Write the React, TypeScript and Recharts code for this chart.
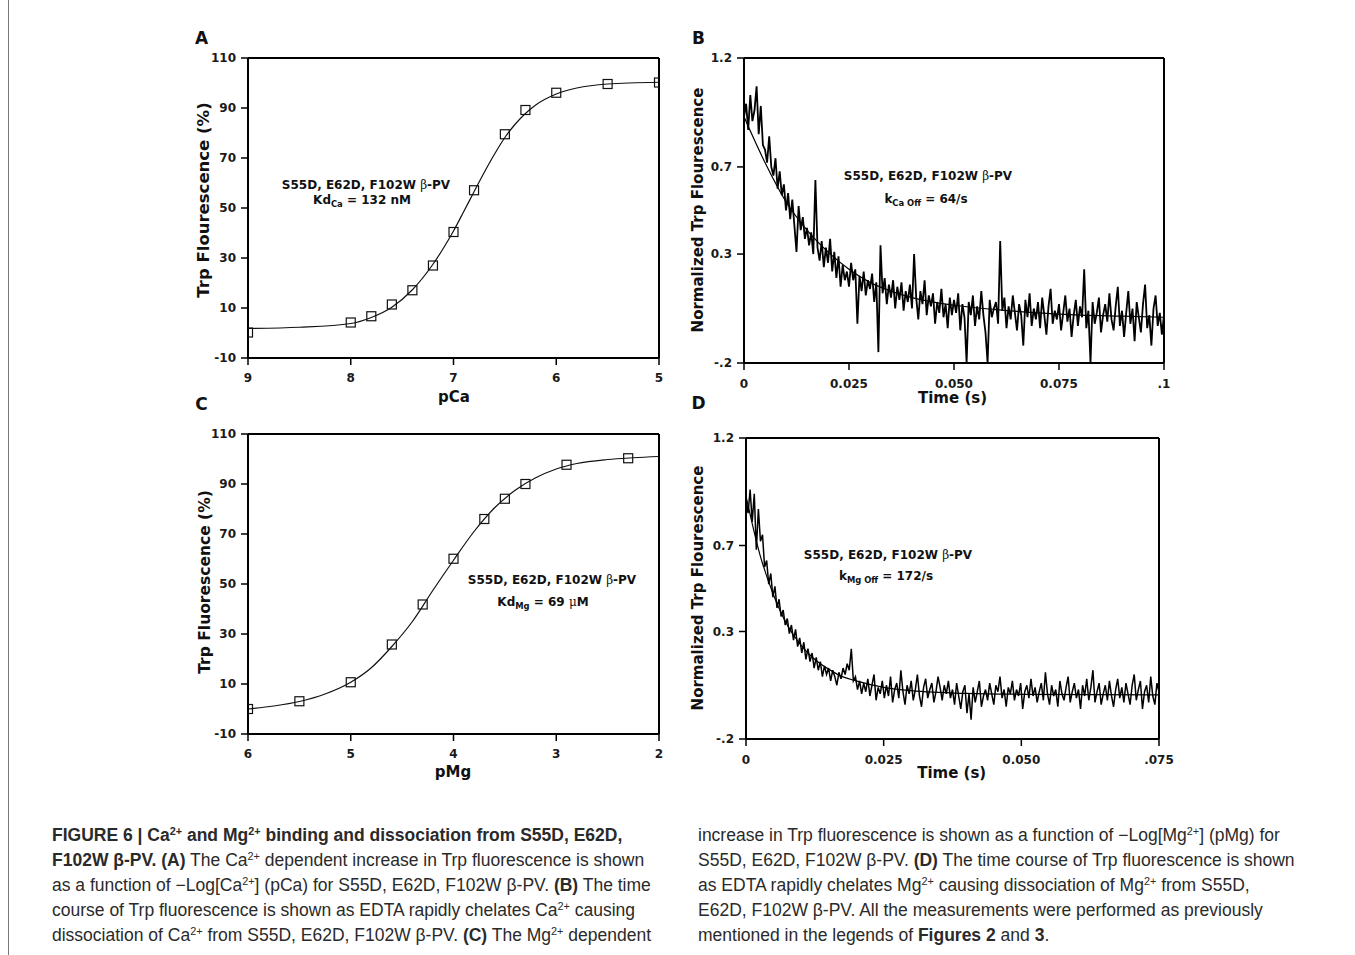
import React from 'react';
import { ComposedChart, Line, Scatter, XAxis, YAxis, ReferenceLine } from 'recharts';

// Panel A: Ca2+ titration (pCa vs Trp fluorescence %)
const pCaPoints = [9, 8, 7.8, 7.6, 7.4, 7.2, 7, 6.8, 6.5, 6.3, 6, 5.5, 5];
const caFluor = [0.2, 4.2, 6.7, 11.4, 17.1, 27, 40.4, 57.1, 79.5, 89.2, 96.1, 99.6, 100.2];
const pCaFit = [9, 8.5, 8, 7.8, 7.6, 7.4, 7.2, 7.1, 7, 6.9, 6.8, 6.7, 6.6, 6.5, 6.4, 6.3, 6.2, 6, 5.8, 5.5, 5];
const caFitValues = [1.8, 2.3, 3.8, 6.2, 10.3, 17.3, 27.5, 33.8, 40.8, 48.6, 56.5, 64.3, 71.6, 78.2, 83.5, 87.8, 91.2, 95.6, 98, 99.6, 100.3];

// Panel C: Mg2+ titration
const pMgPoints = [6, 5.5, 5, 4.6, 4.3, 4, 3.7, 3.5, 3.3, 2.9, 2.3];
const mgFluor = [0, 3.1, 10.7, 25.8, 41.8, 60.1, 76, 84.1, 90, 97.7, 100.3];
const pMgFit = [6, 5.75, 5.5, 5.25, 5, 4.8, 4.6, 4.4, 4.2, 4, 3.8, 3.6, 3.4, 3.2, 3, 2.8, 2.5, 2.25, 2];
const mgFitValues = [0, 1.2, 3, 6, 10.7, 16.5, 25, 35, 47.5, 59.5, 71, 80.5, 87.5, 92.5, 96, 98.2, 99.8, 100.5, 101];

// Panel B: Ca off trace, sampled every 0.5 ms
const caOffStep = 0.0005;
const caOffTrace = [
  0.93, 0.99, 0.87, 1.03, 0.91, 0.96, 1.07, 0.85, 0.98, 0.80,
  0.78, 0.72, 0.84, 0.70, 0.66, 0.74, 0.60, 0.68, 0.57, 0.62,
  0.50, 0.58, 0.46, 0.55, 0.43, 0.31, 0.52, 0.41, 0.47, 0.37,
  0.42, 0.34, 0.40, 0.30, 0.64, 0.33, 0.27, 0.36, 0.24, 0.33,
  0.26, 0.37, 0.22, 0.31, 0.19, 0.29, 0.15, 0.25, 0.18, 0.22,
  0.15, 0.26, 0.18, 0.23, -0.02, 0.20, 0.13, 0.22, 0.11, 0.18,
  0.14, 0.21, 0.08, 0.17, -0.15, 0.34, 0.12, 0.19, 0.07, 0.16,
  0.10, 0.18, 0.05, 0.15, 0.09, 0.17, 0.04, 0.13, 0.08, 0.16,
  0.05, 0.30, 0.10, 0.00, 0.13, 0.07, 0.18, 0.02, 0.11, 0.06,
  0.12, -0.02, 0.08, 0.03, 0.14, 0.01, 0.07, -0.04, 0.10, 0.02,
  0.09, 0.03, 0.12, -0.05, 0.07, 0.01, -0.20, 0.08, 0.02, 0.11,
  -0.03, 0.06, 0.00, 0.13, 0.02, -0.06, -0.20, 0.09, 0.01, 0.05,
  0.08, -0.02, 0.36, 0.04, 0.10, -0.04, 0.06, 0.00, 0.11, 0.03,
  -0.05, 0.07, 0.02, -0.12, 0.09, 0.01, 0.12, -0.03, 0.05, 0.00,
  0.08, -0.04, 0.10, 0.02, -0.07, 0.06, 0.14, -0.02, 0.04, 0.00,
  0.07, -0.05, 0.03, 0.11, -0.01, 0.05, -0.08, 0.02, 0.09, -0.03,
  0.06, 0.01, 0.23, -0.04, 0.04, -0.20, 0.08, -0.02, 0.03, 0.10,
  -0.06, 0.02, 0.07, -0.01, 0.12, 0.00, -0.05, 0.06, 0.15, -0.03,
  0.04, -0.08, 0.03, 0.13, -0.02, 0.05, -0.10, 0.08, 0.01, -0.06,
  0.07, 0.16, -0.04, 0.02, -0.12, 0.05, 0.11, -0.03, 0.03, -0.07, 0.02,
];
const caOffFitT = [0, 0.005, 0.01, 0.015, 0.02, 0.025, 0.03, 0.035, 0.04, 0.05, 0.06, 0.07, 0.08, 0.09, 0.1];
const caOffFitV = [0.93, 0.72, 0.54, 0.41, 0.31, 0.23, 0.17, 0.13, 0.10, 0.065, 0.045, 0.03, 0.02, 0.015, 0.01];

// Panel D: Mg off trace, sampled every 0.375 ms
const mgOffStep = 0.000375;
const mgOffTrace = [
  0.92, 0.85, 0.96, 0.81, 0.94, 0.68, 0.87, 0.72, 0.75, 0.60,
  0.63, 0.52, 0.57, 0.46, 0.51, 0.41, 0.45, 0.37, 0.40, 0.33,
  0.36, 0.29, 0.33, 0.26, 0.31, 0.23, 0.27, 0.20, 0.25, 0.17,
  0.22, 0.16, 0.20, 0.13, 0.18, 0.12, 0.16, 0.09, 0.14, 0.10,
  0.13, 0.07, 0.12, 0.09, 0.05, 0.11, 0.08, 0.13, 0.10, 0.15,
  0.12, 0.22, 0.07, 0.09, 0.03, 0.07, 0.01, 0.06, 0.02, 0.08,
  0.00, 0.05, 0.10, -0.02, 0.04, 0.01, 0.07, -0.01, 0.05, 0.00,
  0.09, -0.03, 0.03, 0.06, -0.01, 0.12, 0.02, -0.04, 0.05, 0.01,
  0.07, -0.02, 0.03, 0.10, 0.00, -0.05, 0.04, 0.08, -0.01, 0.03,
  0.06, -0.03, 0.02, 0.09, 0.04, -0.02, 0.05, 0.01, 0.07, -0.01,
  0.03, -0.04, 0.06, 0.00, -0.06, 0.02, 0.05, -0.08, 0.01, -0.11,
  0.04, -0.03, 0.02, 0.07, -0.05, 0.00, 0.03, -0.02, 0.06, 0.01,
  -0.04, 0.05, 0.02, 0.09, -0.01, 0.03, -0.05, 0.04, 0.01, 0.07,
  -0.02, 0.03, 0.00, 0.06, -0.06, 0.02, 0.05, -0.01, 0.08, 0.00,
  0.04, -0.03, 0.02, 0.06, -0.02, 0.11, 0.01, -0.04, 0.05, 0.00,
  0.03, -0.05, 0.07, 0.01, -0.02, 0.04, 0.09, -0.03, 0.02, 0.06,
  -0.01, 0.03, -0.06, 0.05, 0.00, 0.08, -0.02, 0.04, 0.12, -0.03,
  0.02, 0.06, -0.04, 0.01, 0.05, -0.02, 0.07, 0.00, -0.05, 0.03,
  0.08, -0.01, 0.04, -0.03, 0.06, 0.01, -0.04, 0.05, 0.10, -0.02,
  0.03, 0.07, -0.06, 0.02, 0.05, -0.03, 0.09, 0.00, -0.04, 0.06, 0.02,
];
const mgOffFitT = [0, 0.0025, 0.005, 0.0075, 0.01, 0.0125, 0.015, 0.0175, 0.02, 0.025, 0.03, 0.04, 0.05, 0.075];
const mgOffFitV = [0.93, 0.66, 0.47, 0.33, 0.235, 0.17, 0.125, 0.09, 0.07, 0.04, 0.025, 0.012, 0.008, 0.005];

// axis ticks
const pCaTicks = [5, 6, 7, 8, 9];
const pMgTicks = [2, 3, 4, 5, 6];
const fluorTicks = [-10, 10, 30, 50, 70, 90, 110];
const normTicks = [-0.2, 0.3, 0.7, 1.2];
const normLabels = ['-.2', '0.3', '0.7', '1.2'];
const caTimeTicks = [0, 0.025, 0.05, 0.075, 0.1];
const caTimeLabels = ['0', '0.025', '0.050', '0.075', '.1'];
const mgTimeTicks = [0, 0.025, 0.05, 0.075];
const mgTimeLabels = ['0', '0.025', '0.050', '.075'];

const pairs = (xs: number[], ys: number[]) => xs.map((x, i) => ({ x, y: ys[i] }));
const sampled = (ys: number[], step: number) => ys.map((y, i) => ({ x: i * step, y }));

const tickFont = { fill: '#1a1a1a', fontSize: 12, fontWeight: 700, fontFamily: 'DejaVu Sans, sans-serif' };
const axisLine = { stroke: '#000', strokeWidth: 2 };
const tickLine = { stroke: '#000', strokeWidth: 1.5 };

const Square = (p: any) => (
  <rect x={p.cx - 4.5} y={p.cy - 4.5} width={9} height={9} fill="none" stroke="#111" strokeWidth={1.2} />
);

type Box = { l: number; r: number; t: number; b: number };

function Panel({
  box, xDomain, xTicks, xLabels, reversed, yDomain, yTicks, yLabels, xTickMargin, children,
}: {
  box: Box; xDomain: [number, number]; xTicks: number[]; xLabels?: string[]; reversed?: boolean;
  yDomain: [number, number]; yTicks: number[]; yLabels?: string[]; xTickMargin: number;
  children: React.ReactNode;
}) {
  const fmt = (ticks: number[], labels?: string[]) => (v: number) => {
    const i = ticks.indexOf(v);
    return labels && i >= 0 ? labels[i] : String(v);
  };
  return (
    <div style={{ position: 'absolute', left: box.l - 70, top: box.t - 10 }}>
      <ComposedChart
        width={box.r - box.l + 100}
        height={box.b - box.t + 50}
        margin={{ top: 10, right: 30, left: 0, bottom: 0 }}
      >
        <XAxis
          type="number"
          dataKey="x"
          domain={xDomain}
          ticks={xTicks}
          interval={0}
          reversed={reversed}
          allowDataOverflow
          height={40}
          tickSize={7}
          tickMargin={xTickMargin}
          axisLine={axisLine}
          tickLine={tickLine}
          tick={tickFont}
          tickFormatter={fmt(xTicks, xLabels)}
        />
        <YAxis
          type="number"
          dataKey="y"
          domain={yDomain}
          ticks={yTicks}
          interval={0}
          allowDataOverflow
          width={70}
          tickSize={7}
          tickMargin={5}
          axisLine={axisLine}
          tickLine={tickLine}
          tick={tickFont}
          tickFormatter={fmt(yTicks, yLabels)}
        />
        <ReferenceLine y={yDomain[1]} stroke="#000" strokeWidth={2} />
        <ReferenceLine x={reversed ? xDomain[0] : xDomain[1]} stroke="#000" strokeWidth={2} />
        {children}
      </ComposedChart>
    </div>
  );
}

const bold = "'DejaVu Sans', sans-serif";

function At({ x, y, size = 12, rotate, children }: { x: number; y: number; size?: number; rotate?: boolean; children: React.ReactNode }) {
  return (
    <div
      style={{
        position: 'absolute', left: x, top: y, whiteSpace: 'nowrap',
        transform: `translate(-50%, -50%)${rotate ? ' rotate(-90deg)' : ''}`,
        fontFamily: bold, fontWeight: 700, fontSize: size, lineHeight: 1, color: '#111',
      }}
    >
      {children}
    </div>
  );
}

const beta = <span style={{ fontFamily: "'DejaVu Serif', serif", fontWeight: 400 }}>β</span>;
const sub = (t: string) => <sub style={{ fontSize: '0.7em', verticalAlign: '-0.35em' }}>{t}</sub>;
const sup = (t: string) => <sup style={{ fontSize: '0.62em', verticalAlign: '0.55em', lineHeight: 0 }}>{t}</sup>;
const ca = <>Ca{sup('2+')}</>;
const mg = <>Mg{sup('2+')}</>;
const pv = <>S55D, E62D, F102W β-PV</>;

const leftLines: React.ReactNode[] = [
  <b>FIGURE 6 | {ca} and {mg} binding and dissociation from S55D, E62D,</b>,
  <><b>F102W β-PV. (A)</b> The {ca} dependent increase in Trp fluorescence is shown</>,
  <>as a function of −Log[{ca}] (pCa) for {pv}. <b>(B)</b> The time</>,
  <>course of Trp fluorescence is shown as EDTA rapidly chelates {ca} causing</>,
  <>dissociation of {ca} from {pv}. <b>(C)</b> The {mg} dependent</>,
];
const rightLines: React.ReactNode[] = [
  <>increase in Trp fluorescence is shown as a function of −Log[{mg}] (pMg) for</>,
  <>{pv}. <b>(D)</b> The time course of Trp fluorescence is shown</>,
  <>as EDTA rapidly chelates {mg} causing dissociation of {mg} from S55D,</>,
  <>E62D, F102W β-PV. All the measurements were performed as previously</>,
  <>mentioned in the legends of <b>Figures 2</b> and <b>3</b>.</>,
];

function Caption({ x, lines }: { x: number; lines: React.ReactNode[] }) {
  return (
    <div
      style={{
        position: 'absolute', left: x, top: 823, fontFamily: "'Liberation Sans', Arial, sans-serif",
        fontSize: 17.5, lineHeight: '25px', color: '#2a2a2a',
      }}
    >
      {lines.map((l, i) => (
        <div key={i} style={{ whiteSpace: 'nowrap', height: 25 }}>{l}</div>
      ))}
    </div>
  );
}

export default function App() {
  return (
    <div style={{ position: 'absolute', left: 0, top: 0, width: 1355, height: 955, background: '#fff', overflow: 'hidden' }}>
      <div style={{ position: 'absolute', left: 8, top: 0, width: 0, height: 955, borderLeft: '1px solid #777' }} />

      <Panel box={{ l: 248, r: 659, t: 58, b: 358 }} xDomain={[5, 9]} xTicks={pCaTicks} reversed
        yDomain={[-10, 110]} yTicks={fluorTicks} xTickMargin={8}>
        <Line data={pairs(pCaFit, caFitValues)} dataKey="y" type="monotone" stroke="#111" strokeWidth={1.2} dot={false} isAnimationActive={false} />
        <Scatter data={pairs(pCaPoints, caFluor)} dataKey="y" shape={Square} isAnimationActive={false} />
      </Panel>

      <Panel box={{ l: 744, r: 1164, t: 58, b: 363 }} xDomain={[0, 0.1]} xTicks={caTimeTicks} xLabels={caTimeLabels}
        yDomain={[-0.2, 1.2]} yTicks={normTicks} yLabels={normLabels} xTickMargin={9}>
        <Line data={sampled(caOffTrace, caOffStep)} dataKey="y" type="linear" stroke="#000" strokeWidth={1.8} dot={false} isAnimationActive={false} />
        <Line data={pairs(caOffFitT, caOffFitV)} dataKey="y" type="monotone" stroke="#000" strokeWidth={1.2} dot={false} isAnimationActive={false} />
      </Panel>

      <Panel box={{ l: 248, r: 659, t: 434, b: 734 }} xDomain={[2, 6]} xTicks={pMgTicks} reversed
        yDomain={[-10, 110]} yTicks={fluorTicks} xTickMargin={8}>
        <Line data={pairs(pMgFit, mgFitValues)} dataKey="y" type="monotone" stroke="#111" strokeWidth={1.2} dot={false} isAnimationActive={false} />
        <Scatter data={pairs(pMgPoints, mgFluor)} dataKey="y" shape={Square} isAnimationActive={false} />
      </Panel>

      <Panel box={{ l: 746, r: 1159, t: 438, b: 739 }} xDomain={[0, 0.075]} xTicks={mgTimeTicks} xLabels={mgTimeLabels}
        yDomain={[-0.2, 1.2]} yTicks={normTicks} yLabels={normLabels} xTickMargin={9}>
        <Line data={sampled(mgOffTrace, mgOffStep)} dataKey="y" type="linear" stroke="#000" strokeWidth={1.5} dot={false} isAnimationActive={false} />
        <Line data={pairs(mgOffFitT, mgOffFitV)} dataKey="y" type="monotone" stroke="#000" strokeWidth={1.2} dot={false} isAnimationActive={false} />
      </Panel>

      <At x={201.5} y={37.5} size={17}>A</At>
      <At x={698.5} y={37.5} size={17}>B</At>
      <At x={201.5} y={404} size={17}>C</At>
      <At x={698.5} y={402.5} size={17}>D</At>

      <At x={204} y={200} size={16.5} rotate>Trp Flourescence (%)</At>
      <At x={697.5} y={210} size={15} rotate>Normalized Trp Flourescence</At>
      <At x={205.5} y={582} size={15.5} rotate>Trp Fluorescence (%)</At>
      <At x={698} y={587.5} size={15} rotate>Normalized Trp Flourescence</At>

      <At x={454} y={397} size={15}>pCa</At>
      <At x={952.5} y={398} size={15}>Time (s)</At>
      <At x={453} y={772} size={15}>pMg</At>
      <At x={951.7} y={773} size={15}>Time (s)</At>

      <At x={366} y={185}>S55D, E62D, F102W {beta}-PV</At>
      <At x={362} y={201}>Kd{sub('Ca')} = 132 nM</At>
      <At x={928} y={176}>S55D, E62D, F102W {beta}-PV</At>
      <At x={926} y={200}>k{sub('Ca Off')} = 64/s</At>
      <At x={552} y={580}>S55D, E62D, F102W {beta}-PV</At>
      <At x={543} y={603}>Kd{sub('Mg')} = 69 <span style={{ fontFamily: "'DejaVu Serif', serif", fontWeight: 400 }}>μ</span>M</At>
      <At x={888} y={555}>S55D, E62D, F102W {beta}-PV</At>
      <At x={886} y={577}>k{sub('Mg Off')} = 172/s</At>

      <Caption x={52} lines={leftLines} />
      <Caption x={698} lines={rightLines} />
    </div>
  );
}
